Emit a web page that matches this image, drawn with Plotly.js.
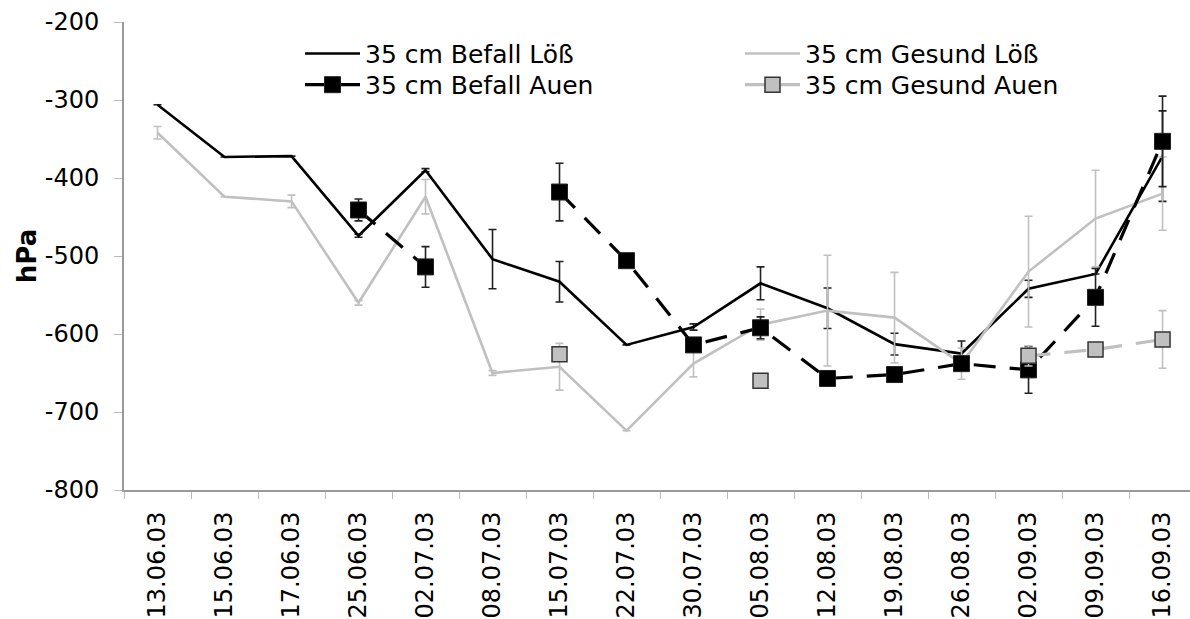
<!DOCTYPE html>
<html>
<head>
<meta charset="utf-8">
<script src="https://cdn.plot.ly/plotly-3.0.1.min.js"></script>
<style>html,body{margin:0;padding:0;background:#fff;}#chart{width:1190px;height:619px;}</style>
</head>
<body>
<div id="chart"></div>
<script>
const dates = ["13.06.03","15.06.03","17.06.03","25.06.03","02.07.03","08.07.03","15.07.03","22.07.03","30.07.03","05.08.03","12.08.03","19.08.03","26.08.03","02.09.03","09.09.03","16.09.03"];

const befallLoess    = [-306,-373,-372,-474,-390,-504,-533,-614,-591,-535,-567,-613,-625,-542,-523,-372];
const befallLoessErr = [null,null,null,2,2,38,26,null,4,21,26,14,16,11,null,58];

const gesundLoess    = [-342,-424,-430,-560,-424,-650,-642,-724,-638,-588,-570,-579,-638,-520,-452,-420];
const gesundLoessErr = [8,null,8,3,22,3,30,null,17,20,71,58,20,71,62,47];

const befallAuen     = [null,null,null,-441,-514,null,-418,-506,-614,-592,-657,-652,-638,-646,-553,-353];
const befallAuenErr  = [null,null,null,14,26,null,37,null,null,14,null,null,null,30,37,58];

const gesundAuen     = [null,null,null,null,null,null,-626,null,null,-660,null,null,null,-628,-620,-607];
const gesundAuenErr  = [null,null,null,null,null,null,null,null,null,null,null,null,null,13,null,37];

const seriesNames = ["35 cm Befall Löß","35 cm Gesund Löß","35 cm Befall Auen","35 cm Gesund Auen"];

const yTickVals = [-800,-700,-600,-500,-400,-300,-200];
const yTickText = ["-800","-700","-600","-500","-400","-300","-200"];

const FONT = "DejaVu Sans, Liberation Sans, Arial, sans-serif";
const GREY = "#c0c0c0";

function err(arr, color){
  return {type:"data", array:arr, visible:true, color:color, thickness:1.6, width:4};
}

const traces = [
  {x:dates, y:befallLoess, name:seriesNames[0], type:"scatter", mode:"lines", legend:"legend",
   line:{color:"#000", width:2.6}, error_y:err(befallLoessErr,"#222")},
  {x:dates, y:gesundLoess, name:seriesNames[1], type:"scatter", mode:"lines", legend:"legend",
   line:{color:GREY, width:2.6}, error_y:err(gesundLoessErr,GREY)},
  {x:dates, y:befallAuen, name:seriesNames[2], type:"scatter", mode:"lines+markers", legend:"legend2",
   line:{color:"#000", width:3.2, dash:"22px,14px"},
   marker:{symbol:"square", size:16, color:"#000", line:{color:"#222", width:1}},
   error_y:err(befallAuenErr,"#222")},
  {x:dates, y:gesundAuen, name:seriesNames[3], type:"scatter", mode:"lines+markers", legend:"legend2",
   line:{color:GREY, width:3.2, dash:"22px,14px"},
   marker:{symbol:"square", size:15, color:GREY, line:{color:"#333", width:1.5}},
   error_y:err(gesundAuenErr,GREY)}
];

const legendBase = {xref:"paper", yref:"paper", xanchor:"left", yanchor:"middle",
  orientation:"h", itemwidth:55, entrywidth:370, entrywidthmode:"pixels",
  tracegroupgap:0, bgcolor:"rgba(0,0,0,0)",
  font:{family:FONT, size:25, color:"#000"}};

const layout = {
  width:1190, height:619,
  margin:{l:124, r:0, t:22, b:129},
  paper_bgcolor:"#fff", plot_bgcolor:"#fff",
  font:{family:FONT, color:"#000", size:24},
  showlegend:true,
  legend:Object.assign({}, legendBase, {x:0.1651, y:0.932}),
  legend2:Object.assign({}, legendBase, {x:0.1651, y:0.8655}),
  xaxis:{type:"category", range:[-0.5, 15.41], showline:true, linecolor:"#999", linewidth:2,
         ticks:"outside", tickson:"boundaries", ticklen:7, tickcolor:"#bbb", tickwidth:1,
         tickangle:-90, ticklabelstandoff:10, tickfont:{family:FONT, size:24, color:"#000"},
         showgrid:false, zeroline:false, automargin:false},
  yaxis:{range:[-800,-200], tickvals:yTickVals, ticktext:yTickText,
         showline:true, linecolor:"#999", linewidth:2,
         ticks:"outside", ticklen:8, tickcolor:"#bbb", tickwidth:1,
         ticklabelstandoff:10,
         tickfont:{family:FONT, size:24, color:"#000"},
         showgrid:false, zeroline:false, automargin:false,
         title:{text:"<b>hPa</b>", font:{family:FONT, size:26, color:"#000"}, standoff:1}}
};

Plotly.newPlot("chart", traces, layout, {displayModeBar:false, staticPlot:true});
</script>
</body>
</html>
